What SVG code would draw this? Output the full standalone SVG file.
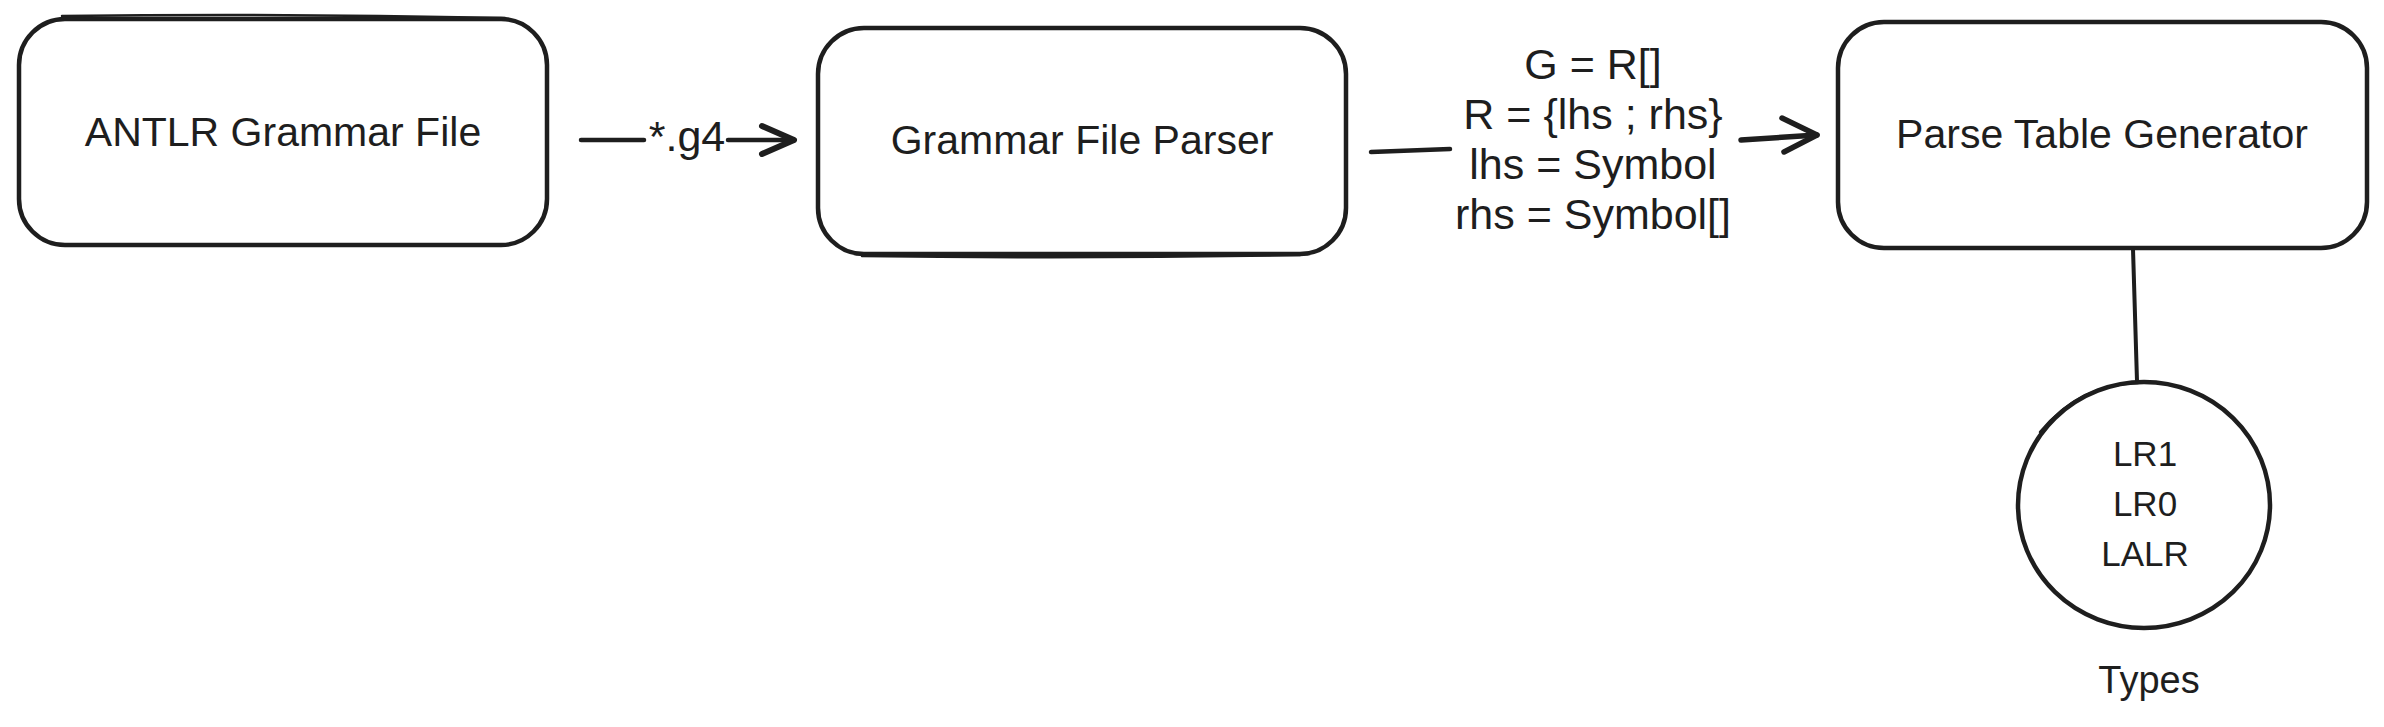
<svg xmlns="http://www.w3.org/2000/svg" width="2384" height="727" viewBox="0 0 2384 727">
<style>
.shape{fill:#ffffff;stroke:#1e1e1e;stroke-width:4.5;stroke-linejoin:round}
.sk{fill:none;stroke:#1e1e1e;stroke-width:2.5;stroke-linecap:round}
.lbl{font-family:"Liberation Sans","DejaVu Sans",sans-serif;fill:#1e1e1e;text-anchor:middle}
.big{font-size:41px}
.elbl{font-size:43px}
.small{font-size:35px}
.edge{fill:none;stroke:#1e1e1e;stroke-width:4.5;stroke-linecap:round;stroke-linejoin:round}
</style>
<rect width="2384" height="727" fill="#ffffff"/>
<g id="connectors">
  <path class="edge" d="M581 140 L644 140"/>
  <path class="edge" d="M728 140 L794 140"/>
  <path class="edge" style="stroke-width:6" d="M762 126 L794 140 L762 154"/>
  <text class="lbl elbl" x="687" y="151">*.g4</text>
  <path class="edge" d="M1371 152 L1450 149"/>
  <path class="edge" style="stroke-width:5.5" d="M1741 140 L1817 135"/>
  <path class="edge" style="stroke-width:5.5" d="M1782 118 L1817 135 L1784 152"/>
  <text class="lbl elbl" x="1593" y="79">G = R[]</text>
  <text class="lbl elbl" x="1593" y="129">R = {lhs ; rhs}</text>
  <text class="lbl elbl" x="1593" y="179">lhs = Symbol</text>
  <text class="lbl elbl" x="1593" y="229">rhs = Symbol[]</text>
  <path class="edge" style="stroke-width:4" d="M2133 249 L2137 381"/>
</g>
<g id="node-antlr">
  <rect class="shape" x="19" y="19" width="528" height="226" rx="46"/>
  <path class="sk" d="M62 16 Q280 13 505 18"/>
  <text class="lbl big" x="283" y="146">ANTLR Grammar File</text>
</g>
<g id="node-parser">
  <rect class="shape" x="818" y="28" width="528" height="226" rx="46"/>
  <path class="sk" d="M862 256 Q1080 259 1300 255"/>
  <text class="lbl big" x="1082" y="154">Grammar File Parser</text>
</g>
<g id="node-generator">
  <rect class="shape" x="1838" y="22" width="529" height="226" rx="46"/>
  <text class="lbl big" x="2102" y="148">Parse Table Generator</text>
</g>
<g id="node-types">
  <ellipse class="shape" cx="2144" cy="505" rx="126" ry="123"/>
  <path class="sk" d="M2040 432 Q2080 384 2138 383"/>
  <text class="lbl small" x="2145" y="466">LR1</text>
  <text class="lbl small" x="2145" y="516">LR0</text>
  <text class="lbl small" x="2145" y="566">LALR</text>
</g>
<g id="label-types">
  <text class="lbl small" x="2149" y="693" style="font-size:38px">Types</text>
</g>
</svg>
